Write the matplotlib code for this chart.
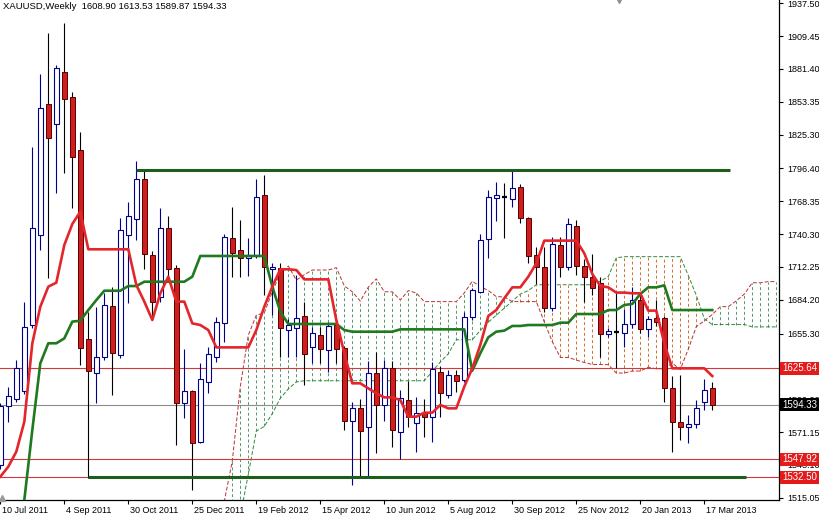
import numpy as np
import matplotlib.pyplot as plt
from matplotlib.patches import Rectangle
from matplotlib.transforms import ScaledTranslation

# ---- chart data (weekly XAUUSD, bar 0 = week of 10 Jul 2011) ----
title_text = "XAUUSD,Weekly  1608.90 1613.53 1589.87 1594.33"

opens = [1543.0, 1593.4, 1599.1, 1606.5, 1662.6, 1739.5, 1851.4, 1834.1, 1879.1, 1857.1,
         1812.1, 1650.4, 1621.3, 1635.0, 1678.9, 1637.0, 1739.5, 1752.9, 1787.4, 1722.4,
         1686.8, 1745.2, 1711.0, 1596.3, 1606.5, 1563.0, 1614.2, 1635.6, 1664.0, 1736.7,
         1726.7, 1719.6, 1721.6, 1773.7, 1710.2, 1711.0, 1658.3, 1659.8, 1670.3, 1643.5,
         1654.1, 1641.3, 1662.6, 1642.7, 1580.9, 1591.4, 1575.2, 1621.3, 1594.3, 1625.6,
         1571.5, 1598.5, 1579.2, 1587.7, 1583.7, 1622.7, 1602.8, 1619.9, 1615.6, 1669.7,
         1691.1, 1735.8, 1770.8, 1772.3, 1770.0, 1780.2, 1753.8, 1722.4, 1711.9, 1676.9,
         1731.0, 1711.9, 1747.2, 1713.0, 1703.3, 1698.2, 1655.0, 1656.9, 1656.1, 1663.5,
         1684.0, 1658.9, 1669.0, 1668.3, 1608.5, 1580.0, 1575.2, 1578.0, 1597.1, 1608.90]
highs = [1596.0, 1609.9, 1632.7, 1682.5, 1815.0, 1877.1, 1911.8, 1884.8, 1920.9, 1862.0,
         1827.8, 1674.0, 1678.3, 1689.7, 1695.4, 1753.8, 1768.0, 1802.7, 1795.6, 1726.1,
         1762.3, 1755.8, 1713.9, 1641.8, 1607.0, 1630.4, 1644.1, 1669.7, 1740.0, 1763.2,
         1752.3, 1736.7, 1787.4, 1790.8, 1715.9, 1715.3, 1668.0, 1705.3, 1682.6, 1661.2,
         1661.2, 1665.5, 1667.0, 1645.0, 1597.1, 1599.1, 1631.9, 1639.8, 1632.7, 1631.9,
         1607.1, 1615.1, 1601.4, 1599.1, 1631.3, 1627.6, 1624.0, 1624.0, 1674.0, 1694.0,
         1740.4, 1778.0, 1785.1, 1783.7, 1794.5, 1783.0, 1755.0, 1729.6, 1729.6, 1738.1,
         1737.5, 1753.8, 1752.3, 1719.0, 1723.3, 1703.3, 1660.0, 1689.7, 1676.0, 1695.4,
         1689.7, 1670.0, 1684.0, 1670.0, 1619.0, 1619.9, 1585.7, 1598.5, 1616.2, 1613.53]
lows = [1540.0, 1580.0, 1597.0, 1604.0, 1659.8, 1726.7, 1702.5, 1775.1, 1792.2, 1762.3,
        1628.4, 1532.2, 1595.7, 1633.0, 1602.8, 1634.1, 1681.1, 1735.2, 1710.2, 1666.9,
        1682.6, 1701.1, 1560.1, 1582.9, 1521.6, 1562.0, 1604.2, 1631.3, 1648.4, 1703.3,
        1703.9, 1704.5, 1720.0, 1688.3, 1671.2, 1635.6, 1635.6, 1635.6, 1611.4, 1630.4,
        1630.4, 1622.7, 1629.9, 1572.9, 1525.9, 1532.5, 1532.5, 1553.5, 1580.9, 1558.1,
        1547.8, 1575.8, 1554.4, 1567.2, 1562.9, 1584.3, 1600.0, 1605.7, 1614.0, 1666.9,
        1690.0, 1719.6, 1751.8, 1736.7, 1763.7, 1750.0, 1715.9, 1697.7, 1674.0, 1675.0,
        1703.9, 1710.0, 1705.3, 1682.6, 1688.3, 1635.0, 1652.0, 1625.6, 1644.1, 1659.8,
        1655.5, 1652.7, 1662.0, 1597.1, 1554.4, 1564.4, 1561.5, 1574.3, 1590.0, 1589.87]
closes = [1593.4, 1602.0, 1625.6, 1660.6, 1745.2, 1847.7, 1822.1, 1881.9, 1855.4, 1806.4,
          1642.7, 1623.6, 1635.0, 1679.7, 1639.0, 1743.8, 1755.8, 1787.4, 1723.3, 1682.6,
          1745.2, 1710.2, 1596.3, 1606.5, 1562.1, 1616.2, 1637.8, 1665.5, 1737.5, 1724.4,
          1719.6, 1721.6, 1772.3, 1712.5, 1712.5, 1659.8, 1662.6, 1668.3, 1637.8, 1655.5,
          1641.8, 1661.8, 1641.8, 1580.9, 1591.4, 1572.3, 1621.3, 1594.3, 1625.6, 1572.9,
          1600.0, 1583.7, 1587.7, 1583.7, 1624.7, 1604.2, 1619.9, 1615.1, 1669.7, 1692.5,
          1735.2, 1771.7, 1773.7, 1772.3, 1779.4, 1753.8, 1721.6, 1711.9, 1676.9, 1731.8,
          1711.9, 1748.9, 1713.0, 1703.9, 1693.9, 1655.0, 1657.8, 1656.9, 1663.5, 1684.0,
          1658.9, 1667.5, 1665.0, 1608.5, 1580.0, 1575.2, 1578.0, 1591.4, 1607.1, 1594.33]

tenkan = [1533.0, 1541.6, 1554.4, 1580.0, 1647.0, 1678.3, 1695.4, 1698.8, 1731.0, 1748.9,
          1759.5, 1727.3, 1727.3, 1727.3, 1727.3, 1727.3, 1727.3, 1696.8, 1682.6, 1666.9,
          1689.7, 1703.9, 1682.6, 1682.6, 1664.0, 1662.6, 1658.3, 1643.5, 1643.5, 1643.5,
          1643.5, 1643.5, 1658.3, 1678.3, 1695.4, 1710.2, 1710.2, 1709.6, 1701.6, 1701.6,
          1701.6, 1701.6, 1666.9, 1638.4, 1612.8, 1612.8, 1608.5, 1604.2, 1600.8, 1600.8,
          1598.5, 1584.3, 1584.3, 1587.7, 1587.7, 1594.3, 1591.4, 1591.4, 1610.0, 1625.6,
          1645.5, 1670.3, 1675.4, 1685.4, 1694.8, 1694.8, 1703.9, 1715.3, 1734.7, 1734.7,
          1734.7, 1734.7, 1734.7, 1723.9, 1706.2, 1696.0, 1694.8, 1690.3, 1690.3, 1689.7,
          1689.7, 1674.9, 1674.9, 1647.0, 1625.6, 1625.6, 1625.6, 1625.6, 1625.6, 1619.0]
kijun = [1440.0, 1455.0, 1475.0, 1513.1, 1572.9, 1629.9, 1647.0, 1647.0, 1651.2, 1665.5,
         1666.3, 1675.4, 1683.9, 1691.9, 1691.9, 1691.9, 1695.9, 1695.9, 1699.6, 1699.6,
         1699.6, 1699.6, 1699.6, 1699.6, 1703.9, 1721.6, 1721.6, 1721.6, 1721.6, 1721.6,
         1721.6, 1721.6, 1721.6, 1721.6, 1695.4, 1674.0, 1663.5, 1663.5, 1663.5, 1663.5,
         1663.5, 1663.5, 1663.5, 1658.3, 1656.9, 1656.9, 1656.9, 1656.9, 1656.9, 1656.9,
         1658.9, 1658.9, 1658.9, 1658.9, 1658.9, 1658.9, 1658.9, 1658.9, 1658.9, 1623.6,
         1638.4, 1652.1, 1656.9, 1657.8, 1661.8, 1661.8, 1662.6, 1662.6, 1662.6, 1662.6,
         1664.6, 1664.6, 1672.0, 1672.0, 1672.0, 1672.0, 1675.4, 1675.4, 1679.7, 1680.6,
         1689.1, 1694.8, 1694.8, 1696.5, 1675.4, 1675.4, 1675.4, 1675.4, 1675.4, 1675.4]

# Senkou spans (already shifted forward), first value belongs to bar 26
cloud_first_bar = 26
span_a = [1486.0, 1496.0, 1512.0, 1546.5, 1610.0, 1654.0, 1671.0, 1673.0, 1691.0, 1707.0,
          1713.0, 1701.0, 1705.6, 1709.6, 1709.6, 1709.6, 1711.6, 1696.0, 1691.0, 1683.0,
          1695.0, 1702.0, 1691.0, 1691.0, 1684.0, 1692.0, 1690.0, 1682.6, 1682.6, 1682.6,
          1682.6, 1682.6, 1690.0, 1700.0, 1695.4, 1692.1, 1686.9, 1686.6, 1682.6, 1682.6,
          1682.6, 1682.6, 1665.2, 1648.4, 1634.9, 1634.9, 1632.7, 1630.6, 1628.9, 1628.9,
          1628.7, 1621.6, 1621.6, 1623.3, 1623.3, 1626.6, 1625.2, 1625.2, 1630.0, 1624.6,
          1642.0, 1661.2, 1666.2, 1671.6, 1678.3, 1678.3, 1683.3, 1689.0, 1698.7, 1698.7,
          1699.7, 1699.7]
span_b = [1420.0, 1435.0, 1450.0, 1470.0, 1500.0, 1535.0, 1572.0, 1576.0, 1587.0, 1600.0,
          1608.0, 1614.0, 1615.0, 1615.0, 1615.0, 1615.0, 1615.0, 1615.0, 1615.0, 1615.0,
          1615.0, 1615.0, 1615.0, 1615.0, 1615.0, 1615.0, 1615.0, 1615.0, 1623.0, 1631.0,
          1638.0, 1650.0, 1650.0, 1650.0, 1658.0, 1665.0, 1671.0, 1677.0, 1683.0, 1689.0,
          1692.0, 1697.0, 1697.0, 1697.0, 1697.0, 1697.0, 1697.0, 1697.0, 1697.0, 1700.0,
          1704.0, 1720.0, 1721.0, 1721.0, 1721.0, 1721.0, 1721.0, 1721.0, 1721.0, 1721.0,
          1705.0, 1688.0, 1668.0, 1663.0, 1663.0, 1663.0, 1663.0, 1663.0, 1661.0, 1661.0,
          1661.0, 1661.0]

date_bars = [0, 8, 16, 24, 32, 40, 48, 56, 64, 72, 80, 88]
date_labels = ["10 Jul 2011", "4 Sep 2011", "30 Oct 2011", "25 Dec 2011", "19 Feb 2012",
               "15 Apr 2012", "10 Jun 2012", "5 Aug 2012", "30 Sep 2012", "25 Nov 2012",
               "20 Jan 2013", "17 Mar 2013"]

price_ticks = [1937.50, 1909.45, 1881.40, 1853.35, 1825.30, 1796.40, 1768.35, 1740.30,
               1712.25, 1684.20, 1655.30, 1627.25, 1599.20, 1571.15, 1543.10, 1515.05]
hidden_ticks = [1627.25]

red_levels = [1625.64, 1547.92, 1532.50]
bid_price = 1594.33
trend_levels = [1795.4, 1532.5]
trend_from = [17, 11]
trend_to = [91.2, 93.2]

# ---- style ----
BULL = "#00008b"
BEAR_FACE = "#d01e1e"
BEAR_EDGE = "#5a0000"
TENKAN = "#e3262c"
KIJUN = "#1f7a1f"
SPAN_A = "#b8322f"
SPAN_B = "#2f8a3a"
HATCH_UP = "#4e9a6a"
HATCH_DN = "#d07030"
TREND = "#1d5e1d"
LEVEL = "#d03a3a"

plt.rcParams["font.family"] = ["Liberation Sans", "DejaVu Sans"]

W, H = 819, 517
fig = plt.figure(figsize=(W / 100, H / 100), dpi=100)
ax = fig.add_axes([0, 17 / H, 779 / W, 500 / H])
ax.set_xlim(-0.04, 97.34)
ax.set_ylim(1513.1, 1940.3)

# cloud hatch and boundaries
cloud_x = np.arange(cloud_first_bar, cloud_first_bar + len(span_a))
sa = np.array(span_a)
sb = np.array(span_b)
for x, a, b in zip(cloud_x, sa, sb):
    col = HATCH_UP if a >= b else HATCH_DN
    ax.vlines(x, min(a, b), max(a, b), colors=col, linestyles=(0, (3, 2.5)),
              linewidth=0.7, zorder=1)
ax.plot(cloud_x, sa, color=SPAN_A, lw=0.7, ls=(0, (4, 2)), zorder=2)
ax.plot(cloud_x, sb, color=SPAN_B, lw=0.7, ls=(0, (4, 2)), zorder=2)

# horizontal levels
for lvl in red_levels:
    ax.axhline(lvl, color=LEVEL, lw=0.8, zorder=2)
ax.axhline(bid_price, color="#8c8c8c", lw=0.8, zorder=2)
for lvl, x0, x1 in zip(trend_levels, trend_from, trend_to):
    ax.hlines(lvl, x0, x1, color=TREND, lw=2.2, zorder=5)

# candles
bw = 0.6
for k, (o, h, l, c) in enumerate(zip(opens, highs, lows, closes)):
    if c > o:
        ax.vlines(k, l, h, color=BULL, lw=0.8, zorder=3)
        ax.bar(k, c - o, bottom=o, width=bw, facecolor="white", edgecolor=BULL,
               linewidth=0.8, zorder=4)
    elif c < o:
        ax.vlines(k, l, h, color="black", lw=0.8, zorder=3)
        ax.bar(k, o - c, bottom=c, width=bw, facecolor=BEAR_FACE, edgecolor=BEAR_EDGE,
               linewidth=0.7, zorder=4)
    else:
        ax.vlines(k, l, h, color="black", lw=0.8, zorder=3)
        ax.hlines(o, k - bw / 2, k + bw / 2, color="black", lw=1.6, zorder=4)

# tenkan / kijun
bars = np.arange(len(tenkan))
ax.plot(bars, kijun, color=KIJUN, lw=1.9, zorder=6, solid_joinstyle="round")
ax.plot(bars, tenkan, color=TENKAN, lw=1.9, zorder=7, solid_joinstyle="round")

# axes cosmetics
for side in ("top", "left"):
    ax.spines[side].set_visible(False)
for side in ("right", "bottom"):
    ax.spines[side].set_linewidth(0.9)
ax.yaxis.tick_right()
ax.set_yticks(price_ticks)
ax.set_yticklabels(["" if p in hidden_ticks else f"{p:.2f}" for p in price_ticks])
ax.tick_params(axis="y", direction="out", length=3, width=0.8, pad=3, labelsize=6.5)
ax.set_xticks(date_bars)
ax.set_xticklabels(date_labels, ha="left")
ax.tick_params(axis="x", direction="out", length=3, width=0.8, pad=1.5, labelsize=6.5)
shift = ScaledTranslation(1.5 / 100, 0, fig.dpi_scale_trans)
for lab in ax.get_xticklabels():
    lab.set_transform(lab.get_transform() + shift)

# price boxes on the axis, covering the scale like the terminal does
box_prices = red_levels + [bid_price]
box_colors = ["#e41b1b", "#e41b1b", "#e41b1b", "black"]
fig.canvas.draw()
for p, col in zip(box_prices, box_colors):
    y_disp = ax.transData.transform((0, p))[1]
    y_fig = y_disp / H
    fig.patches.append(Rectangle((780 / W, y_fig - 6.5 / H), 39 / W, 13 / H,
                                 transform=fig.transFigure, facecolor=col,
                                 edgecolor="none", zorder=20))
    fig.text(800 / W, y_fig, f"{p:.2f}", ha="center", va="center", fontsize=7,
             color="white", zorder=21)

# shift markers
ax.plot([77.3], [1940.3], marker="v", ms=5, color="#8a909a", clip_on=False, zorder=10)
ax.plot([0.2], [1514.5], marker="^", ms=4, color="#9a9a9a", clip_on=False, zorder=10)

fig.text(3 / W, 1 - 6.5 / H, title_text, fontsize=6.8, ha="left", va="center")

fig.savefig("out.png", dpi=100)
